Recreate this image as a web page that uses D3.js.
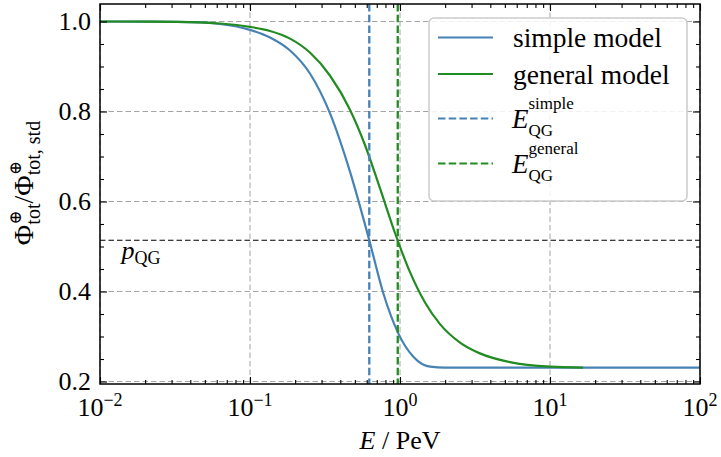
<!DOCTYPE html>
<html><head><meta charset="utf-8">
<script src="https://cdn.jsdelivr.net/npm/d3@7"></script>
<style>body{margin:0;background:#fff} svg{display:block}</style>
</head><body><svg id="c" width="721" height="457"></svg>
<script>
// ---- data ----
const simpleEnergy = [0.01, 0.0215, 0.0464, 0.0631, 0.1, 0.136, 0.185, 0.251, 0.341, 0.464, 0.624, 0.774, 0.974, 1.227, 1.585, 1.995, 5, 20, 100];
const simpleFlux   = [1.000, 0.9997, 0.998, 0.9945, 0.9815, 0.9645, 0.9355, 0.8845, 0.7965, 0.6665, 0.514, 0.396, 0.307, 0.255, 0.233, 0.231, 0.231, 0.231, 0.231];
const generalEnergy = [0.01, 0.0215, 0.0464, 0.0631, 0.1, 0.136, 0.185, 0.251, 0.341, 0.464, 0.585, 0.736, 0.926, 1.166, 1.468, 1.848, 2.512, 3.41, 5.41, 10, 16.6];
const generalFlux   = [1.000, 0.9998, 0.998, 0.9955, 0.988, 0.979, 0.962, 0.931, 0.880, 0.804, 0.725, 0.629, 0.530, 0.443, 0.3755, 0.3275, 0.2865, 0.2625, 0.243, 0.233, 0.231];
const qgEnergies = [0.624, 0.966];          // E_QG^simple, E_QG^general
const pQG = 0.514;
const xTickValues = [1e-2, 1e-1, 1e0, 1e1, 1e2];
const xTickExponents = ["\u22122", "\u22121", "0", "1", "2"];
const yTickValues = [0.2, 0.4, 0.6, 0.8, 1.0];
const yTickLabels = ["0.2", "0.4", "0.6", "0.8", "1.0"];
const seriesNames = ["simple model", "general model"];
const qgNames = ["simple", "general"];

// ---- layout ----
const L = 100, R = 700, T = 4, B = 384;
const blue = "#4682b4", green = "#228b22";
const serif = "'Liberation Serif','DejaVu Serif',serif";
const svg = d3.select("#c");
const x = d3.scaleLog().domain([1e-2, 1e2]).range([L, R]);
const y = d3.scaleLinear().domain([0.19444, 1.03889]).range([B, T]);

svg.append("defs").append("clipPath").attr("id", "clip")
  .append("rect").attr("x", L).attr("y", T).attr("width", R - L).attr("height", B - T);

// grid
const grid = svg.append("g").attr("stroke", "#9a9a9a").attr("stroke-width", 0.9).attr("stroke-dasharray", "5.5,3");
grid.selectAll(".gx").data(xTickValues).join("line")
  .attr("x1", d => x(d)).attr("x2", d => x(d)).attr("y1", T).attr("y2", B);
grid.selectAll(".gy").data(yTickValues).join("line")
  .attr("x1", L).attr("x2", R).attr("y1", d => y(d)).attr("y2", d => y(d));

const plot = svg.append("g").attr("clip-path", "url(#clip)");
// p_QG line
plot.append("line").attr("x1", L).attr("x2", R).attr("y1", y(pQG)).attr("y2", y(pQG))
  .attr("stroke", "#000").attr("stroke-width", 1.1).attr("stroke-dasharray", "5.5,3");

const line = d3.line().x(d => x(d[0])).y(d => y(d[1])).curve(d3.curveMonotoneX);
plot.append("path").datum(simpleEnergy.map((e, i) => [e, simpleFlux[i]]))
  .attr("d", line).attr("fill", "none").attr("stroke", blue).attr("stroke-width", 2.2);
plot.append("path").datum(generalEnergy.map((e, i) => [e, generalFlux[i]]))
  .attr("d", line).attr("fill", "none").attr("stroke", green).attr("stroke-width", 2.2);

// vertical QG lines
plot.selectAll(".vq").data(qgEnergies).join("line")
  .attr("x1", d => x(d)).attr("x2", d => x(d)).attr("y1", T).attr("y2", B)
  .attr("stroke", (d, i) => i ? green : blue).attr("stroke-width", 2.3).attr("stroke-dasharray", "7.5,3.2");

// p_QG label
const pl = svg.append("text").attr("x", x(0.0139)).attr("y", y(pQG) + 19)
  .attr("font-family", serif).attr("font-size", 26);
pl.append("tspan").attr("font-style", "italic").text("p");
pl.append("tspan").attr("font-size", 18).attr("dy", 5).text("QG");

// ---- axes (ticks inward on all sides) ----
function minorLog() {
  const v = [];
  for (let k = -2; k < 2; k++) for (let j = 2; j <= 9; j++) v.push(j * Math.pow(10, k));
  return v;
}
const yMinor = d3.range(0.2, 1.04, 0.05).filter(v => Math.abs(v * 5 - Math.round(v * 5)) > 1e-6);

function addAxis(axis, tx, ty) {
  const g = svg.append("g").attr("transform", `translate(${tx},${ty})`).call(axis);
  g.select(".domain").remove();
  g.selectAll("line").attr("stroke", "#000").attr("stroke-width", 1.1);
  g.selectAll("text").remove();
  return g;
}
addAxis(d3.axisBottom(x).tickValues(xTickValues).tickSizeInner(-7).tickSizeOuter(0), 0, B);
addAxis(d3.axisBottom(x).tickValues(minorLog()).tickSizeInner(-4).tickSizeOuter(0), 0, B);
addAxis(d3.axisTop(x).tickValues(xTickValues).tickSizeInner(-7).tickSizeOuter(0), 0, T);
addAxis(d3.axisTop(x).tickValues(minorLog()).tickSizeInner(-4).tickSizeOuter(0), 0, T);
addAxis(d3.axisLeft(y).tickValues(yTickValues).tickSizeInner(-7).tickSizeOuter(0), L, 0);
addAxis(d3.axisLeft(y).tickValues(yMinor).tickSizeInner(-4).tickSizeOuter(0), L, 0);
addAxis(d3.axisRight(y).tickValues(yTickValues).tickSizeInner(-7).tickSizeOuter(0), R, 0);
addAxis(d3.axisRight(y).tickValues(yMinor).tickSizeInner(-4).tickSizeOuter(0), R, 0);

svg.append("rect").attr("x", L).attr("y", T).attr("width", R - L).attr("height", B - T)
  .attr("fill", "none").attr("stroke", "#000").attr("stroke-width", 1.5);

// tick labels
svg.selectAll(".yl").data(yTickValues).join("text")
  .attr("x", L - 9).attr("y", d => y(d) + 8.5).attr("text-anchor", "end")
  .attr("font-family", serif).attr("font-size", 26).text((d, i) => yTickLabels[i]);

xTickValues.forEach((v, i) => {
  const t = svg.append("text").attr("y", 416).attr("font-family", serif).attr("font-size", 26);
  t.append("tspan").text("10");
  t.append("tspan").attr("font-size", 18).attr("dy", -10).text(xTickExponents[i]);
  const w = t.node().getComputedTextLength();
  t.attr("x", x(v) - w / 2);
});

// generic math layout helper
function mathText(parent, pieces, x0, base, defSize) {
  let cx = x0, prevStart = x0, maxEnd = x0;
  pieces.forEach(p => {
    const start = p.stack ? prevStart : cx;
    const t = parent.append("text").attr("x", start).attr("y", base + (p.dy || 0))
      .attr("font-family", p.font || serif).attr("font-size", p.size || defSize || 26)
      .attr("font-style", p.italic ? "italic" : "normal").style("white-space", "pre").text(p.t);
    const w = t.node().getComputedTextLength();
    if (p.stack) { maxEnd = Math.max(maxEnd, start + w); cx = maxEnd; }
    else { prevStart = start; maxEnd = start + w; cx = maxEnd; }
  });
  return cx - x0;
}

// x label
{
  const g = svg.append("g");
  const w = mathText(g, [{t: "E", italic: true}, {t: " / PeV"}], 0, 449);
  g.attr("transform", `translate(${400 - w / 2},0)`);
}
// y label
{
  const g = svg.append("g");
  const inner = g.append("g");
  const oplus = "'DejaVu Serif',serif";
  const w = mathText(inner, [
    {t: "\u03A6"}, {t: "\u2295", size: 17, dy: -12, font: oplus}, {t: "tot", size: 20, dy: 7, stack: true},
    {t: "/"},
    {t: "\u03A6"}, {t: "\u2295", size: 17, dy: -12, font: oplus}, {t: "tot, std", size: 20, dy: 7, stack: true}
  ], 0, 0, 28);
  inner.attr("transform", `translate(${-w / 2},0)`);
  g.attr("transform", "translate(33,183) rotate(-90)");
}

// ---- legend ----
svg.append("rect").attr("x", 429).attr("y", 18).attr("width", 258).attr("height", 183).attr("rx", 5)
  .attr("fill", "#fff").attr("fill-opacity", 0.85).attr("stroke", "#cccccc").attr("stroke-width", 1.5);
const rowsY = [37.5, 74, 118.5, 163.5];
const rowColors = [blue, green, blue, green];
rowsY.forEach((ry, i) => {
  svg.append("line").attr("x1", 438).attr("x2", 493).attr("y1", ry).attr("y2", ry)
    .attr("stroke", rowColors[i]).attr("stroke-width", 2.2)
    .attr("stroke-dasharray", i >= 2 ? "7.5,3.2" : null);
});
seriesNames.forEach((s, i) => {
  svg.append("text").attr("x", 513).attr("y", rowsY[i] + 9.5).attr("font-family", serif)
    .attr("font-size", 27.5).text(s);
});
qgNames.forEach((s, i) => {
  const g = svg.append("g");
  mathText(g, [{t: "E", italic: true, size: 27}, {t: s, size: 17, dy: -19}, {t: "QG", size: 17, dy: 8, stack: true}],
    512, rowsY[i + 2] + 9.8);
});
</script></body></html>
